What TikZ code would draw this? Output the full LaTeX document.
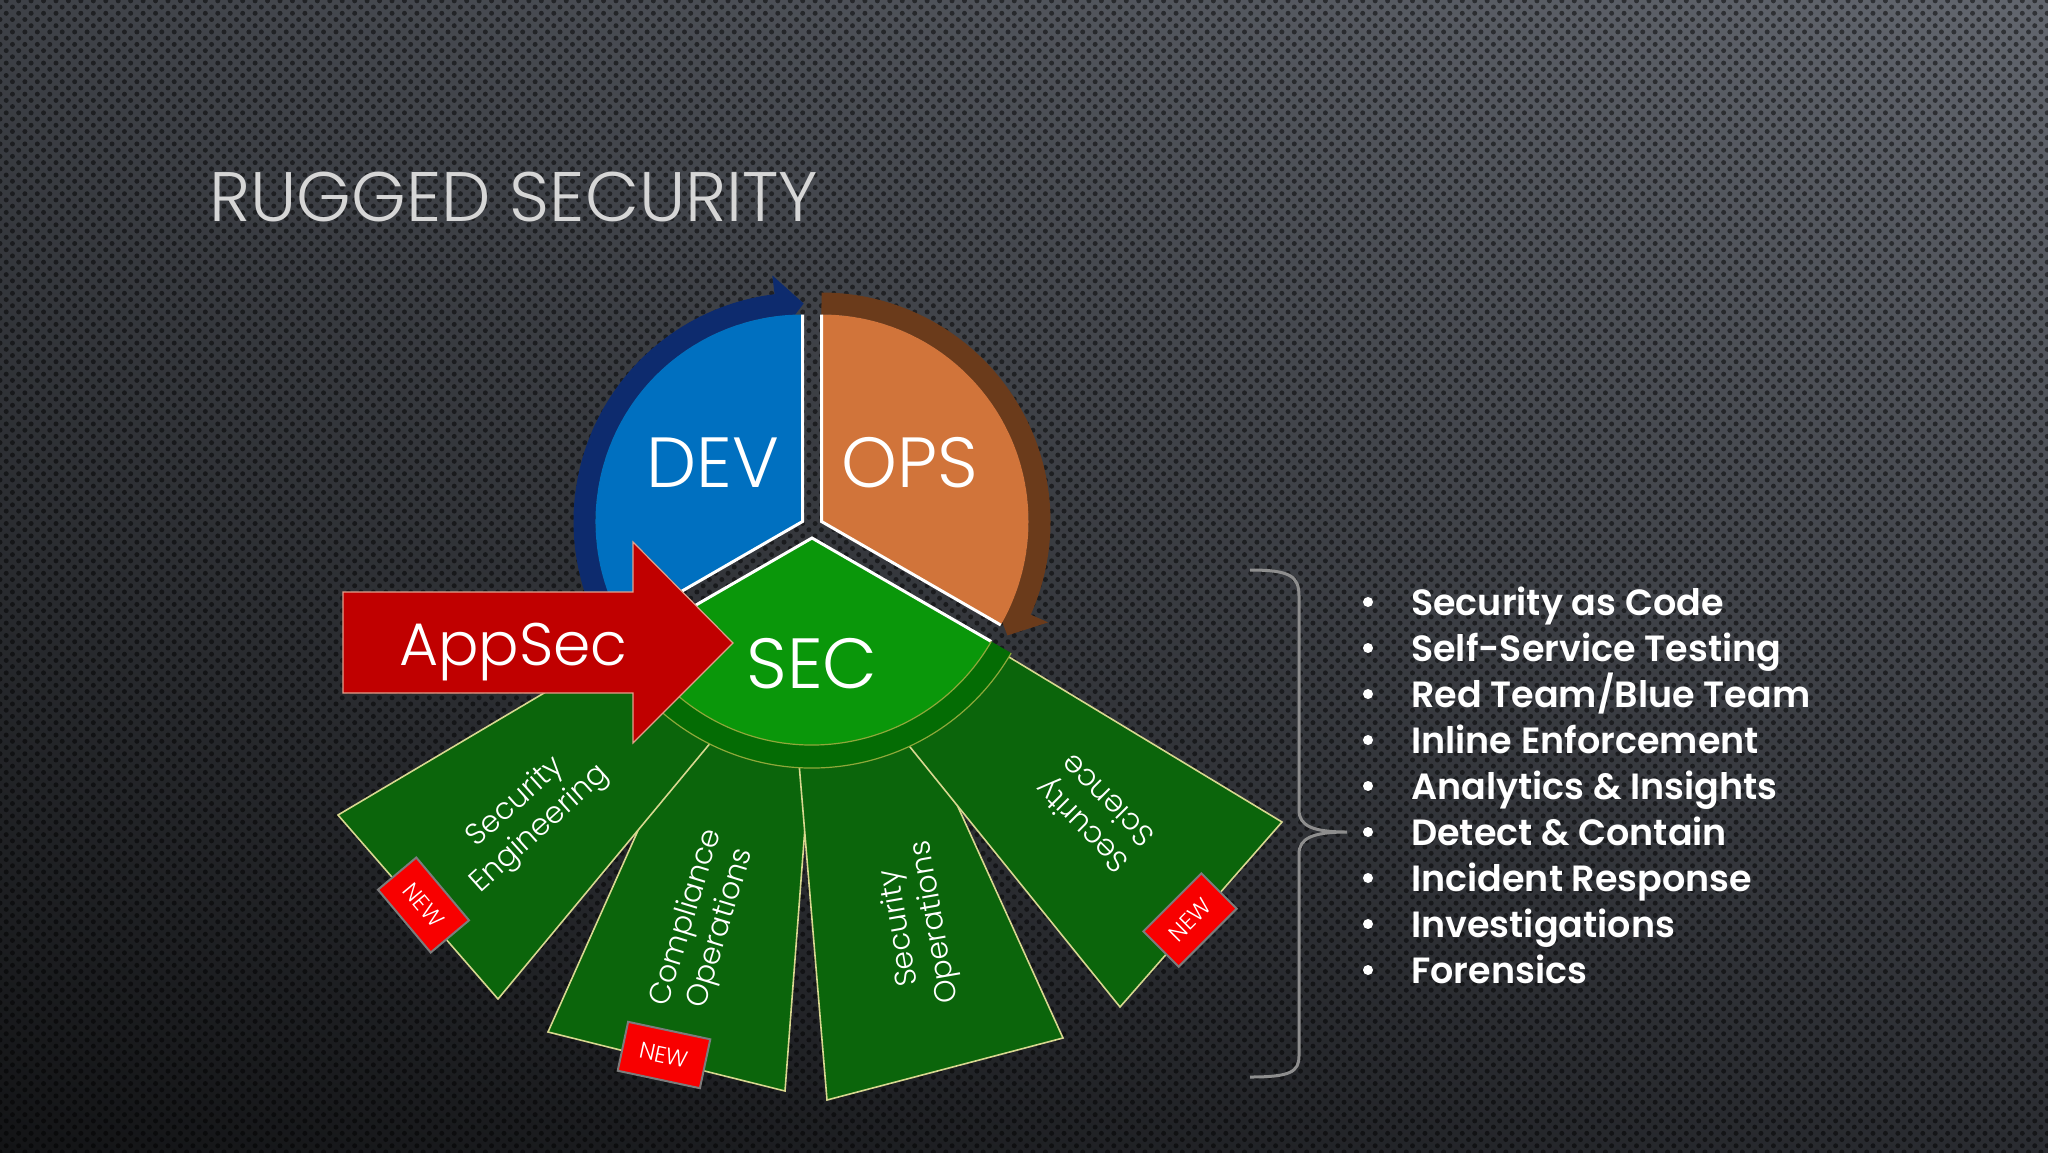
\documentclass[tikz,border=0pt]{standalone}
\usepackage{fontspec}
\setmainfont{Poppins}
\newfontfamily\plight{Poppins Light}
\newfontfamily\psemi{Poppins SemiBold}
\usetikzlibrary{calc,patterns.meta,shadings}
\definecolor{bgUL}{HTML}{3E4147}
\definecolor{bgUR}{HTML}{62666E}
\definecolor{bgLL}{HTML}{131416}
\definecolor{bgLR}{HTML}{2A2C31}
\definecolor{devblue}{HTML}{0070C0}
\definecolor{navyarc}{HTML}{0D2B6E}
\definecolor{opsorange}{HTML}{D1743A}
\definecolor{brownarc}{HTML}{6B3B1B}
\definecolor{secgreen}{HTML}{0A970A}
\definecolor{ringgreen}{HTML}{046C04}
\definecolor{bladegreen}{HTML}{0B650B}
\definecolor{bladeedge}{HTML}{D8D890}
\definecolor{ringline}{HTML}{8FA83A}
\definecolor{appred}{HTML}{C00000}
\definecolor{appedge}{HTML}{E2A08C}
\definecolor{badgered}{HTML}{F80000}
\definecolor{badgeedge}{HTML}{7C7C7C}
\definecolor{titlegray}{HTML}{D6D6D6}
\definecolor{bracegray}{HTML}{8E8E8E}
\begin{document}
\begin{tikzpicture}[x=1pt,y=-1pt,
  blade/.style={fill=bladegreen,draw=bladeedge,line width=1.6,line join=miter},
  whiteedge/.style={draw=white,line width=3},
  newbadge/.style={fill=badgered,draw=badgeedge,line width=2,minimum width=82,minimum height=50,inner sep=0,text=white,font=\plight\fontsize{23}{23}\selectfont},
  bladetext/.style={text=white,align=center,inner sep=1,font=\plight\fontsize{30}{36}\selectfont},
  bigtext/.style={text=white,anchor=base,inner sep=1,font=\plight\fontsize{71}{71}\selectfont},
  itemtext/.style={text=white,anchor=base west,inner sep=1,font=\psemi\fontsize{36.5}{37}\selectfont},
  dotmark/.style={circle,fill=white,minimum size=10,inner sep=0}]
\useasboundingbox (0,0) rectangle (2048,1152);
% background
\shade[upper left=bgUL,upper right=bgUR,lower left=bgLL,lower right=bgLR] (0,0) rectangle (2048,1152);
\fill[pattern={Dots[radius=2.5pt,distance=8.8pt,angle=45]},pattern color=black,fill opacity=0.5] (0,0) rectangle (2048,1152);
% title
\node[anchor=base west,text=titlegray,font=\plight\fontsize{70}{70}\selectfont,inner sep=0] (title) at (209,221) {RUGGED SECURITY};
% centres
\coordinate (dev) at (802.5,521.5);
\coordinate (ops) at (821.5,521.5);
\coordinate (sec) at (812,538);
% blades
\draw[blade] (548,1032) -- (785,1091) -- (810,762) -- (686,723) -- cycle;
\draw[blade] (827,1100) -- (1063,1038) -- (924,732) -- (799,763) -- cycle;
\draw[blade] (1120,1007) -- (1282,822) -- (1004,654) -- (906,742) -- cycle;
\draw[blade] (338,815) -- (498,999) -- (712,741) -- (615,651) -- cycle;
% circular arrows
\draw[navyarc,line width=22] ($(dev)+(150:218)$) arc[start angle=150,end angle=264,radius=218];
\fill[navyarc] ($(dev)+(263:188)$) -- ($(dev)+(270.3:218)$) -- ($(dev)+(263:248)$) -- cycle;
\draw[brownarc,line width=22] ($(ops)+(270:218)$) arc[start angle=270,end angle=385,radius=218];
\fill[brownarc] ($(ops)+(384:188)$) -- ($(ops)+(391.5:218)$) -- ($(ops)+(384:248)$) -- cycle;
% sectors
\fill[devblue] (dev) -- ($(dev)+(150:207)$) arc[start angle=150,end angle=270,radius=207] -- cycle;
\draw[whiteedge] ($(dev)+(150:207)$) -- (dev) -- ($(dev)+(270:207)$);
\fill[opsorange] (ops) -- ($(ops)+(270:207)$) arc[start angle=270,end angle=390,radius=207] -- cycle;
\draw[whiteedge] ($(ops)+(270:207)$) -- (ops) -- ($(ops)+(390:207)$);
\fill[secgreen] (sec) -- ($(sec)+(30:207)$) arc[start angle=30,end angle=150,radius=207] -- cycle;
\draw[whiteedge] ($(sec)+(30:207)$) -- (sec) -- ($(sec)+(150:207)$);
% ring
\fill[ringgreen] ($(sec)+(30:207)$) arc[start angle=30,end angle=150,radius=207] -- ($(sec)+(150:230)$) arc[start angle=150,end angle=30,radius=230] -- cycle;
\draw[ringline,line width=1.2] ($(sec)+(30:207)$) arc[start angle=30,end angle=150,radius=207];
\draw[ringline,line width=1.2] ($(sec)+(30:230)$) arc[start angle=30,end angle=150,radius=230];
% AppSec arrow
\draw[fill=appred,draw=appedge,line width=1.2] (343,592) -- (633,592) -- (633,542) -- (733,643) -- (633,743) -- (633,693) -- (343,693) -- cycle;
\node[bigtext,font=\plight\fontsize{60}{60}\selectfont] (appsec) at (513.5,665) {AppSec};
% labels
\node[bigtext] (devlabel) at (713,487) {DEV};
\node[bigtext] (opslabel) at (910,487) {OPS};
\node[bigtext] (seclabel) at (812,688) {SEC};
\node[bladetext,rotate=42] (engtext) at (528,816) {Security\\Engineering};
\node[bladetext,rotate=73] (comptext) at (704,923) {Compliance\\Operations};
\node[bladetext,rotate=100] (opstext) at (918,925) {Security\\Operations};
\node[bladetext,rotate=135] (scitext) at (1094,814) {Security\\Science};
% badges
\node[newbadge,rotate=-50] (new1) at (423.5,905) {NEW};
\node[newbadge,rotate=-12,minimum width=84] (new2) at (664,1055) {NEW};
\node[newbadge,rotate=45] (new3) at (1190,920) {NEW};
% brace
\coordinate (bracetip) at (1347,832);
\draw[bracegray,line width=3] (1250,570) .. controls (1290,570) and (1299,576) .. (1299,596) -- (1299,810) .. controls (1299,826) and (1313,832) .. (bracetip) .. controls (1313,832) and (1299,838) .. (1299,854) -- (1299,1056) .. controls (1299,1072) and (1290,1077) .. (1250,1077);
% list
\foreach \t [count=\i from 0] in {Security as Code,Self-Service Testing,Red Team/Blue Team,Inline Enforcement,Analytics \& Insights,Detect \& Contain,Incident Response,Investigations,Forensics}{
  \node[dotmark] (dot\i) at (1368,{602+46*\i}) {};
  \node[itemtext] (item\i) at (1410,{615+46*\i}) {\t};
}
\end{tikzpicture}
\end{document}
